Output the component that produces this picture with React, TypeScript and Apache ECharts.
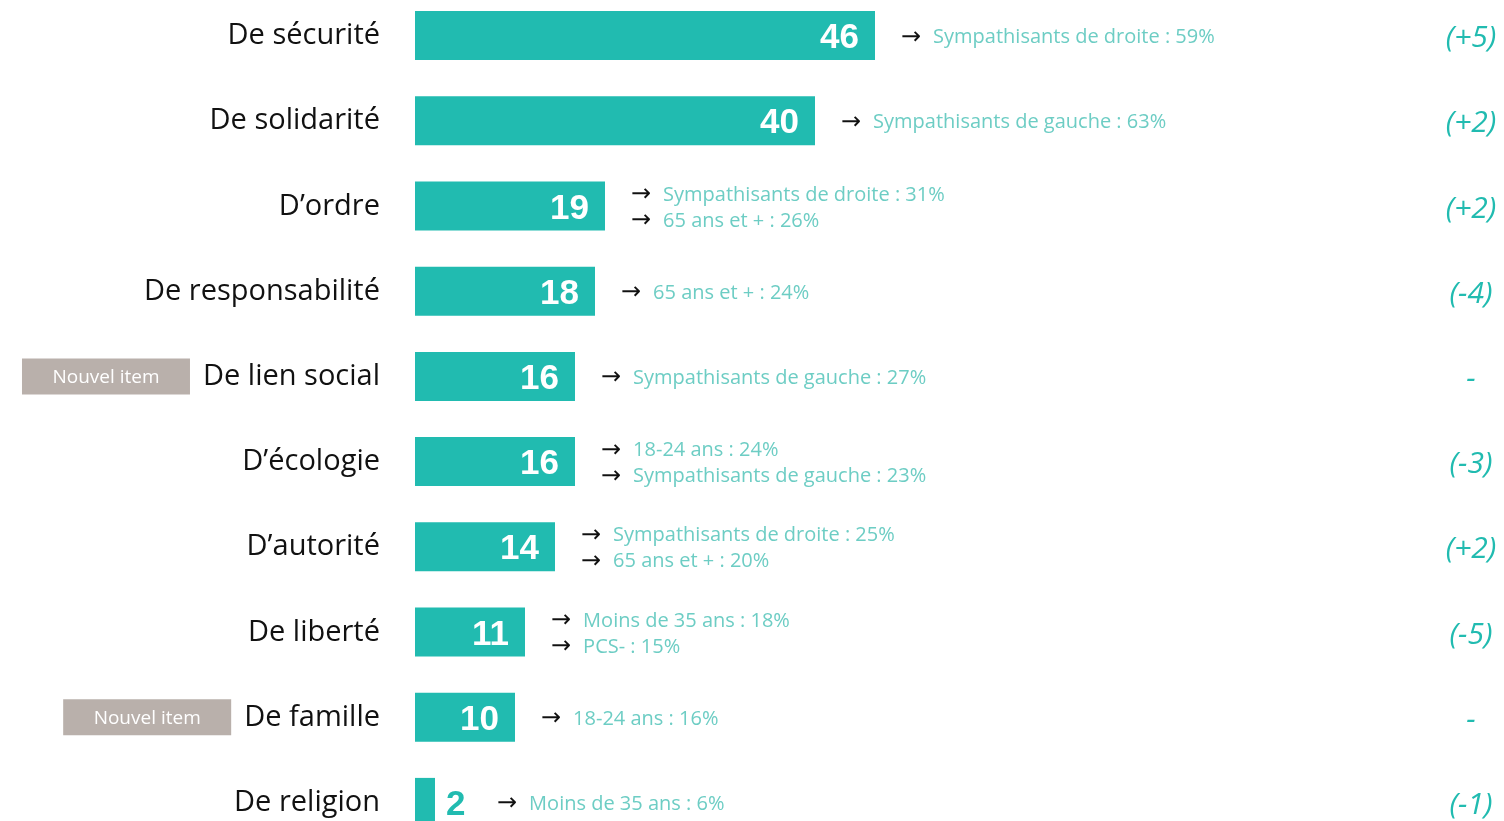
import React, { useEffect, useRef } from "react";
import * as echarts from "echarts";

const categories = [
  "De sécurité",
  "De solidarité",
  "D’ordre",
  "De responsabilité",
  "De lien social",
  "D’écologie",
  "D’autorité",
  "De liberté",
  "De famille",
  "De religion",
];
const values = [46, 40, 19, 18, 16, 16, 14, 11, 10, 2];
const changes = ["(+5)", "(+2)", "(+2)", "(-4)", "-", "(-3)", "(+2)", "(-5)", "-", "(-1)"];
const newItem = [false, false, false, false, true, false, false, false, true, false];
const annotations = [
  ["Sympathisants de droite : 59%"],
  ["Sympathisants de gauche : 63%"],
  ["Sympathisants de droite : 31%", "65 ans et + : 26%"],
  ["65 ans et + : 24%"],
  ["Sympathisants de gauche : 27%"],
  ["18-24 ans : 24%", "Sympathisants de gauche : 23%"],
  ["Sympathisants de droite : 25%", "65 ans et + : 20%"],
  ["Moins de 35 ans : 18%", "PCS- : 15%"],
  ["18-24 ans : 16%"],
  ["Moins de 35 ans : 6%"],
];
const badgeText = "Nouvel item";

const TEAL = "#21bbb0";
const LIGHT_TEAL = "#6dcdc4";
const FONT = "Open Sans";

export default function App() {
  const ref = useRef<HTMLDivElement>(null);
  useEffect(() => {
    const chart = echarts.init(ref.current!, null, { renderer: "svg" });
    const option = {
      animation: false,
      grid: { left: 415, top: 0, width: 1000, height: 852 },
      xAxis: { type: "value", min: 0, max: 100, show: false },
      yAxis: [
        {
          type: "category",
          data: categories,
          inverse: true,
          axisLine: { show: false },
          axisTick: { show: false },
          splitLine: { show: false },
          axisLabel: {
            margin: 35,
            formatter: (v: string, i: number) =>
              newItem[i] ? `{badge|${badgeText}}{gap| }{name|${v}}` : `{name|${v}}`,
            rich: {
              name: { fontFamily: FONT, fontSize: 29, color: "#111", padding: [0, 0, 6, 0] },
              gap: { width: 13, fontSize: 10 },
              badge: {
                fontFamily: FONT,
                fontSize: 19,
                color: "#ffffff",
                backgroundColor: "#b9b0ab",
                width: 168,
                height: 36,
                lineHeight: 36,
                align: "center",
              },
            },
          },
        },
        {
          type: "category",
          data: changes,
          inverse: true,
          position: "right",
          axisLine: { show: false },
          axisTick: { show: false },
          axisLabel: {
            margin: 56,
            align: "center",
            color: TEAL,
            fontStyle: "italic",
            fontFamily: FONT,
            fontSize: 30,
            padding: [0, 0, 4, 0],
          },
        },
      ],
      series: [
        {
          type: "bar",
          yAxisIndex: 0,
          barWidth: 49,
          data: values.map((v) => ({
            value: v,
            label:
              v < 5
                ? { position: "right", distance: 11, color: TEAL }
                : undefined,
          })),
          itemStyle: { color: TEAL },
          label: {
            show: true,
            position: "insideRight",
            distance: 16,
            color: "#ffffff",
            fontFamily: "Liberation Sans",
            fontWeight: "bold",
            fontSize: 35,
          },
          silent: true,
        },
        {
          type: "bar",
          yAxisIndex: 0,
          barWidth: 49,
          barGap: "-100%",
          silent: true,
          itemStyle: { color: "rgba(0,0,0,0)" },
          data: values.map((v, i) => ({
            value: v,
            label: {
              show: true,
              position: "right",
              distance: v < 5 ? 62 : 26,
              formatter: () =>
                annotations[i].map((t) => `{a|→}{sp| }{t|${t}}`).join("\n"),
              rich: {
                a: { fontFamily: "DejaVu Sans", fontSize: 24, color: "#111", lineHeight: 26 },
                sp: { width: 12, fontSize: 10, lineHeight: 26 },
                t: { fontFamily: FONT, fontSize: 20, color: LIGHT_TEAL, lineHeight: 26 },
              },
            },
          })),
        },
      ],
    };
    chart.setOption(option as any);
    return () => chart.dispose();
  }, []);
  return (
    <div
      ref={ref}
      style={{ position: "fixed", left: 0, top: -7, width: 1504, height: 860 }}
    />
  );
}
